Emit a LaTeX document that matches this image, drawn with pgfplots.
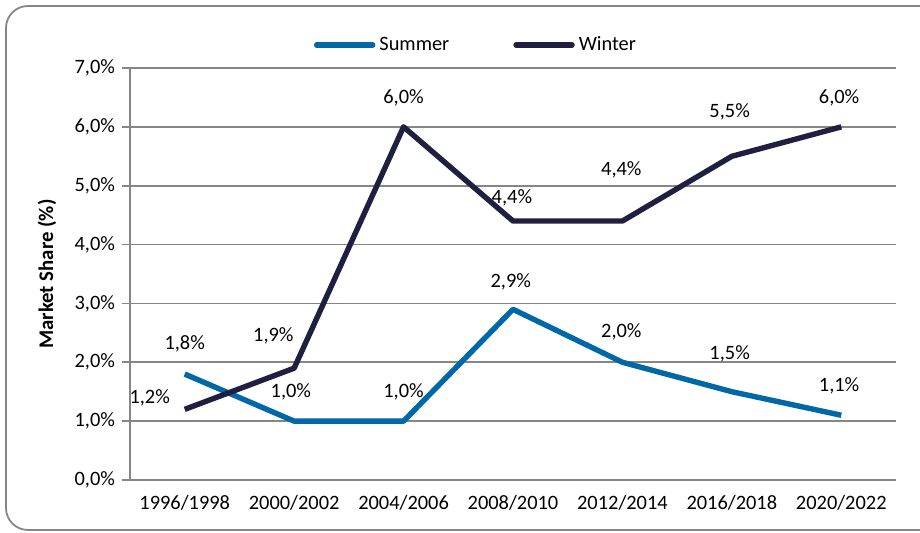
\documentclass[border=0pt]{standalone}
\usepackage{pgfplots}
\pgfplotsset{compat=1.18}
\usepackage{fontspec}
\setmainfont{Carlito}

\definecolor{summer}{RGB}{0,104,166}
\definecolor{winter}{RGB}{31,32,64}
\definecolor{gridc}{RGB}{134,134,134}

\begin{document}
\begin{tikzpicture}[font=\fontsize{10.2}{12}\selectfont]
% frame, 1px = 0.5pt, axis origin at pixel (130,480); its right side lies off the page
\begin{scope}
\clip (-65pt,-26.5pt) rectangle (395pt,240pt);
\draw[gridc, line width=0.9pt, rounded corners=11pt]
    (402pt,237pt) -- (-62pt,237pt) -- (-62pt,-25pt) -- (402pt,-25pt);
\end{scope}
\begin{axis}[
    scale only axis,
    width=383pt, height=206pt,
    xmin=-0.5, xmax=6.5,
    ymin=0, ymax=7,
    axis x line=bottom, axis y line=left,
    axis line style={-, draw=gridc, line width=0.8pt},
    xtick={0,...,6},
    xticklabels={1996/1998,2000/2002,2004/2006,2008/2010,2012/2014,2016/2018,2020/2022},
    x tick style={draw=none},
    extra x ticks={-0.5,0.5,1.5,2.5,3.5,4.5,5.5,6.5},
    extra x tick labels={},
    extra x tick style={tick align=outside, major tick length=4pt,
        tick style={draw=gridc, line width=0.8pt}, grid=none},
    ytick={0,...,7},
    yticklabels={{0,0\%},{1,0\%},{2,0\%},{3,0\%},{4,0\%},{5,0\%},{6,0\%},{7,0\%}},
    y tick style={draw=gridc, line width=0.8pt},
    tick align=outside, major tick length=4pt,
    ymajorgrids,
    grid style={gridc, line width=0.8pt},
    /pgf/number format/assume math mode=true,
    tick label style={font=\fontsize{10.2}{12}\selectfont},
    every axis y label/.style={at={(axis description cs:-0.1084,0.5)}, rotate=90, anchor=center,
        font=\fontsize{10.4}{12}\selectfont\bfseries},
    ylabel={Market Share (\%)},
    legend columns=2,
    legend style={draw=none, fill=none, at={(0.453,1.056)}, anchor=center,
        font=\fontsize{10.2}{12}\selectfont,
        /tikz/every even column/.append style={column sep=30pt}},
    legend image code/.code={\draw[#1, line cap=round] (0pt,0pt) -- (28pt,0pt);},
    clip=false,
]
\addplot[summer, line width=2.7pt, line join=round] coordinates {
    (0,1.8) (1,1.0) (2,1.0) (3,2.9) (4,2.0) (5,1.5) (6,1.1)};
\addlegendentry{Summer}
\addplot[winter, line width=2.7pt, line join=round] coordinates {
    (0,1.2) (1,1.9) (2,6.0) (3,4.4) (4,4.4) (5,5.5) (6,6.0)};
\addlegendentry{Winter}
% data labels, Summer
\node at (axis cs:0,2.31) {1,8\%};
\node at (axis cs:0.97,1.50) {1,0\%};
\node at (axis cs:2.0,1.50) {1,0\%};
\node at (axis cs:2.98,3.36) {2,9\%};
\node at (axis cs:3.99,2.51) {2,0\%};
\node at (axis cs:4.98,2.14) {1,5\%};
\node at (axis cs:5.98,1.60) {1,1\%};
% data labels, Winter
\node at (axis cs:-0.32,1.39) {1,2\%};
\node at (axis cs:0.81,2.45) {1,9\%};
\node at (axis cs:2.0,6.49) {6,0\%};
\node at (axis cs:2.99,4.79) {4,4\%};
\node at (axis cs:3.99,5.27) {4,4\%};
\node at (axis cs:4.98,6.25) {5,5\%};
\node at (axis cs:5.98,6.49) {6,0\%};
\end{axis}
\pgfresetboundingbox
\path[use as bounding box] (-65pt,-26.5pt) rectangle (395pt,240pt);
\end{tikzpicture}
\end{document}
